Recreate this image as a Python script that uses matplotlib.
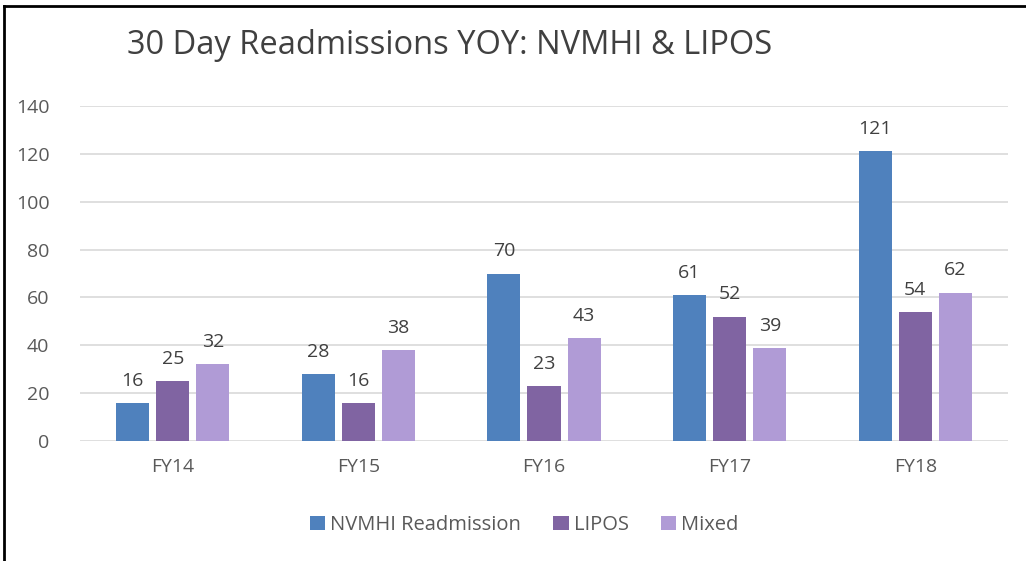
import matplotlib.pyplot as plt
import numpy as np
from matplotlib.lines import Line2D

years = ["FY14", "FY15", "FY16", "FY17", "FY18"]
nvmhi = [16, 28, 70, 61, 121]
lipos = [25, 16, 23, 52, 54]
mixed = [32, 38, 43, 39, 62]
series_names = ["NVMHI Readmission", "LIPOS", "Mixed"]
colors = ["#4F81BD", "#8064A2", "#B09BD6"]

plt.rcParams['font.family'] = ['Open Sans', 'DejaVu Sans']

fig = plt.figure(figsize=(10.26, 5.61), dpi=100)
ax = fig.add_axes([80 / 1026, 1 - 441 / 561, 928 / 1026, 335 / 561])

x = np.arange(len(years))
w = 0.178
step = 0.216
for i, vals in enumerate([nvmhi, lipos, mixed]):
    pos = x + (i - 1) * step
    ax.bar(pos, vals, width=w, color=colors[i], label=series_names[i], zorder=3)
    for p, v in zip(pos, vals):
        ax.text(p, v + 5.5, str(v), ha="center", va="bottom", fontsize=14, color="#404040")

ax.set_xlim(-0.5, 4.5)
ax.set_ylim(0, 140)
ax.set_yticks(range(0, 141, 20))
ax.set_xticks(x)
ax.set_xticklabels(years)
ax.tick_params(axis="both", length=0, labelsize=14, colors="#595959")
ax.tick_params(axis="y", pad=22)
ax.tick_params(axis="x", pad=12)
ax.grid(axis="y", color="#D9D9D9", linewidth=1.2, zorder=0)
for s in ax.spines.values():
    s.set_visible(False)

fig.text(127 / 1026, 1 - 45 / 561, "30 Day Readmissions YOY: NVMHI & LIPOS",
         fontsize=23.5, color="#404040", va="center", ha="left")

fig.legend(loc="center", bbox_to_anchor=(0.511, 1 - 525 / 561), ncol=3, frameon=False,
           fontsize=14.5, handlelength=0.75, handleheight=0.75, handletextpad=0.25,
           columnspacing=1.6, labelcolor="#595959")

# chart border (top and left only visible)
fig.add_artist(Line2D([4 / 1026, 1], [1 - 6 / 561, 1 - 6 / 561], color="black", linewidth=2,
                      transform=fig.transFigure))
fig.add_artist(Line2D([4 / 1026, 4 / 1026], [0, 1 - 6 / 561], color="black", linewidth=2,
                      transform=fig.transFigure))

fig.savefig("out.png", dpi=100)
